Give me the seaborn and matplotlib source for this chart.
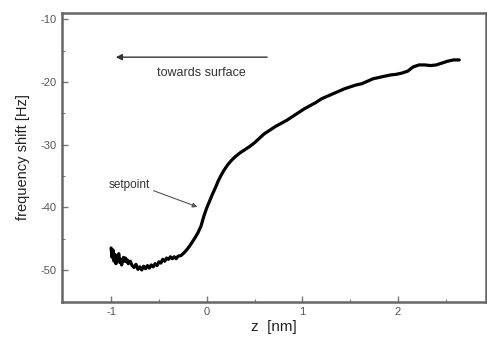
import numpy as np
import pandas as pd
import seaborn as sns
import matplotlib
matplotlib.use("Agg")
import matplotlib.pyplot as plt

# values
z_nm = [-1.00, -0.99, -0.98, -0.97, -0.96, -0.95, -0.94, -0.93, -0.92, -0.91,
        -0.90, -0.89, -0.88, -0.87, -0.86, -0.85, -0.84, -0.83, -0.82, -0.80,
        -0.78, -0.76, -0.74, -0.72, -0.70, -0.68, -0.66, -0.64, -0.62, -0.60,
        -0.58, -0.56, -0.54, -0.52, -0.50, -0.48, -0.46, -0.44, -0.42, -0.40,
        -0.38, -0.36, -0.34, -0.32, -0.30, -0.27, -0.24, -0.21, -0.18, -0.15,
        -0.12, -0.09, -0.06, -0.03, 0.00, 0.03, 0.06, 0.09, 0.12, 0.15,
        0.18, 0.22, 0.26, 0.30, 0.35, 0.40, 0.45, 0.50, 0.55, 0.60,
        0.66, 0.72, 0.78, 0.84, 0.90, 0.96, 1.02, 1.08, 1.14, 1.20,
        1.26, 1.32, 1.38, 1.44, 1.50, 1.56, 1.62, 1.68, 1.74, 1.80,
        1.86, 1.92, 1.98, 2.04, 2.10, 2.16, 2.22, 2.28, 2.34, 2.40,
        2.46, 2.52, 2.58, 2.64]
freq_shift = [-46.5, -48.0, -46.8, -48.6, -47.5, -49.0, -47.8, -48.2, -47.4, -48.8,
              -48.3, -49.2, -48.5, -48.0, -48.6, -48.1, -48.7, -48.4, -49.0, -48.6,
              -49.3, -49.6, -49.1, -49.9, -49.5, -50.0, -49.4, -49.8, -49.3, -49.7,
              -49.2, -49.5, -49.0, -49.3, -48.7, -48.9, -48.3, -48.6, -48.1, -48.3,
              -47.9, -48.2, -47.9, -48.2, -47.8, -47.7, -47.3, -46.8, -46.2, -45.5,
              -44.8, -44.0, -43.0, -41.4, -40.1, -39.0, -37.9, -36.9, -35.8, -34.9,
              -34.1, -33.2, -32.5, -31.9, -31.3, -30.8, -30.3, -29.7, -29.0, -28.3,
              -27.7, -27.1, -26.6, -26.1, -25.5, -24.9, -24.3, -23.8, -23.3, -22.7,
              -22.3, -21.9, -21.5, -21.1, -20.8, -20.5, -20.3, -19.9, -19.5, -19.3,
              -19.1, -18.9, -18.8, -18.6, -18.3, -17.6, -17.3, -17.3, -17.4, -17.3,
              -17.0, -16.7, -16.5, -16.5]

df = pd.DataFrame({"z": z_nm, "df": freq_shift})

sns.set_theme(style="ticks")
plt.rcParams['font.family'] = ['Liberation Sans', 'DejaVu Sans']
plt.rcParams['axes.unicode_minus'] = False

fig = plt.figure(figsize=(4.87, 3.37), dpi=100)
ax = fig.add_axes([0.127, 0.104, 0.871, 0.857])

sns.lineplot(data=df, x="z", y="df", color="black", linewidth=2.3, ax=ax,
             sort=False, estimator=None)

ax.set_xlim(-1.515, 2.92)
ax.set_ylim(-55.1, -9.04)
ax.set_xticks([-1, 0, 1, 2])
ax.set_xticks([-0.5, 0.5, 1.5, 2.5], minor=True)
ax.set_yticks([-10, -20, -30, -40, -50])
ax.set_yticks([-15, -25, -35, -45], minor=True)
ax.tick_params(which="both", direction="in", colors="#777777", labelcolor="#555555",
               labelsize=8)
ax.tick_params(which="major", length=4, width=1)
ax.tick_params(which="minor", length=2.5, width=0.8)

for sp in ax.spines.values():
    sp.set_visible(True)
    sp.set_color("#666666")
    sp.set_linewidth(1.8)

ax.set_xlabel("z  [nm]", fontsize=11, color="#222222", labelpad=2)
ax.set_ylabel("frequency shift [Hz]", fontsize=10.5, color="#222222", labelpad=8)

ax.annotate("", xy=(-0.98, -16.06), xytext=(0.66, -16.06),
            arrowprops=dict(arrowstyle="-|>", color="#333333", lw=1,
                            mutation_scale=9))
ax.text(-0.06, -18.6, "towards surface", ha="center", va="center",
        fontsize=9, color="#333333")

ax.annotate("setpoint", xy=(-0.07, -40.1), xytext=(-1.03, -36.4),
            ha="left", va="center", fontsize=8.5, color="#333333",
            arrowprops=dict(arrowstyle="-|>", color="#555555", lw=0.8,
                            mutation_scale=7, shrinkA=0,
                            relpos=(1.1, 0.0)))

fig.savefig("out.png", dpi=100)
